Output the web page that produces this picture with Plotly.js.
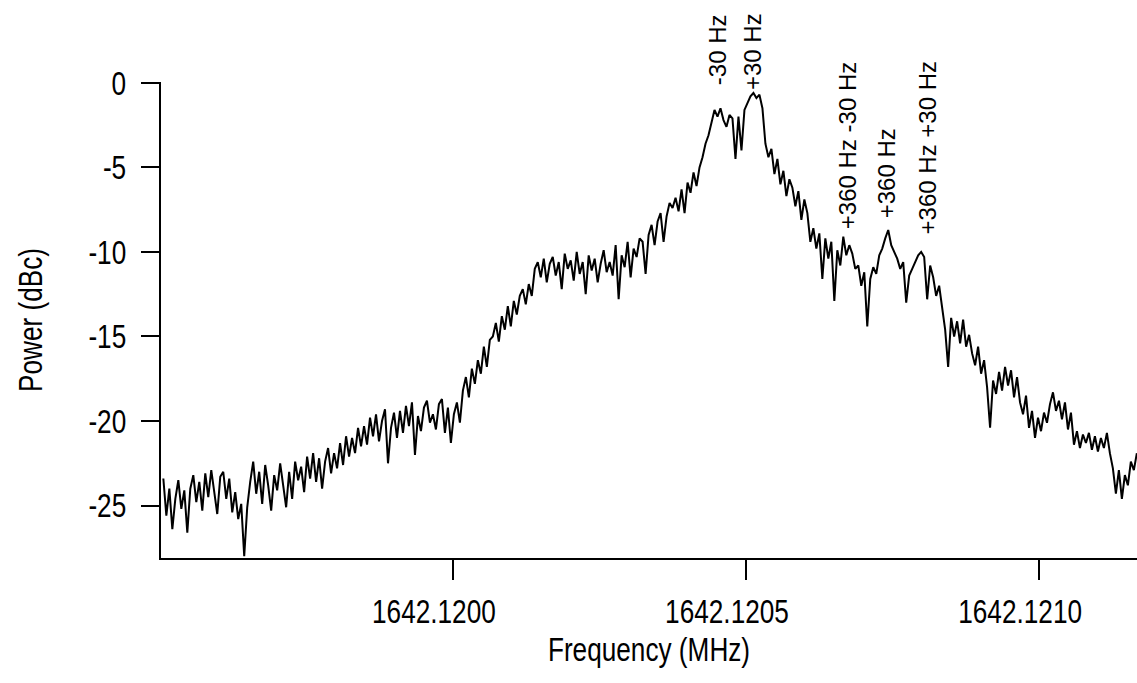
<!DOCTYPE html>
<html>
<head>
<meta charset="utf-8">
<script src="https://cdn.plot.ly/plotly-3.0.1.min.js"></script>
<style>
  html, body { margin: 0; padding: 0; background: #fff; overflow: hidden; }
  #chart { width: 1137px; height: 683px; }
</style>
</head>
<body>
<div id="chart"></div>
<script>
// Spectrum sampling grid (MHz)
const freqStartMHz = 1642.119506;
const freqStepMHz = 0.00000511;

const powerDbc = [
  -23.4,-25.6,-24.0,-26.4,-24.6,-23.5,-25.2,-24.1,-26.6,-24.0,
  -23.2,-24.8,-23.6,-25.3,-23.1,-24.5,-22.9,-24.2,-25.5,-23.3,
  -23.0,-24.6,-23.4,-25.4,-24.2,-25.8,-24.9,-28.0,-25.1,-23.6,
  -22.4,-24.3,-23.0,-24.9,-22.6,-23.8,-25.3,-23.2,-24.1,-22.5,
  -23.9,-25.1,-23.0,-24.6,-22.4,-23.5,-22.7,-24.2,-22.1,-23.4,
  -21.9,-23.6,-22.2,-24.0,-22.4,-21.6,-23.1,-21.9,-22.8,-21.3,
  -22.6,-20.9,-22.1,-21.0,-21.9,-20.4,-21.5,-20.3,-21.4,-19.8,
  -20.9,-19.6,-21.2,-20.0,-19.3,-22.5,-20.4,-19.5,-21.0,-19.4,
  -20.7,-19.1,-20.3,-18.9,-22.0,-19.7,-20.6,-19.2,-18.8,-20.1,
  -19.6,-20.5,-19.0,-18.7,-20.7,-19.2,-21.3,-19.6,-18.9,-20.1,
  -18.2,-17.4,-18.6,-16.9,-17.8,-16.4,-17.2,-15.6,-16.8,-15.2,
  -15.0,-14.2,-15.3,-13.8,-14.6,-13.2,-14.4,-12.9,-13.7,-12.6,
  -12.2,-13.1,-11.9,-12.6,-11.0,-10.6,-11.5,-10.4,-11.8,-10.7,
  -10.3,-11.4,-10.6,-12.2,-10.1,-11.0,-10.5,-11.7,-10.0,-11.3,
  -10.6,-12.5,-10.2,-11.1,-10.4,-11.8,-10.7,-9.9,-11.2,-10.6,
  -11.4,-9.6,-12.8,-10.2,-10.9,-9.4,-11.5,-9.8,-10.3,-9.2,
  -9.4,-11.3,-9.0,-8.4,-9.6,-8.2,-7.7,-9.4,-7.9,-7.1,
  -7.4,-6.8,-7.6,-6.3,-7.7,-5.9,-6.5,-5.3,-6.1,-5.0,
  -4.4,-3.6,-3.1,-2.4,-1.6,-2.0,-1.5,-2.2,-2.6,-1.9,
  -2.1,-4.5,-2.0,-4.0,-1.6,-1.2,-0.8,-0.6,-0.9,-0.7,
  -1.5,-3.6,-4.4,-3.9,-5.4,-4.5,-6.0,-5.2,-6.7,-5.7,
  -6.2,-7.3,-6.4,-8.1,-6.9,-7.7,-9.4,-8.6,-9.8,-8.9,
  -11.6,-9.2,-10.4,-9.4,-12.9,-9.9,-10.8,-9.1,-10.2,-9.6,
  -10.1,-11.0,-10.8,-12.0,-11.2,-14.4,-11.6,-10.9,-11.3,-10.2,
  -9.8,-9.2,-8.7,-9.6,-10.0,-10.4,-11.0,-10.6,-13.0,-11.4,
  -11.0,-10.6,-10.2,-10.0,-10.3,-12.8,-10.8,-11.5,-12.6,-12.0,
  -13.4,-14.6,-16.8,-13.9,-15.0,-14.1,-15.4,-14.0,-15.6,-14.9,
  -16.0,-16.7,-15.6,-17.2,-16.4,-18.0,-20.4,-17.6,-18.4,-17.1,
  -18.2,-16.8,-17.9,-17.0,-18.6,-17.4,-18.9,-19.6,-18.5,-20.4,
  -19.4,-21.0,-19.8,-20.6,-19.5,-20.1,-19.0,-18.3,-19.4,-18.8,
  -19.9,-18.9,-20.5,-19.5,-21.4,-20.6,-21.6,-20.8,-21.3,-20.7,
  -21.7,-20.9,-21.8,-21.0,-21.6,-20.7,-21.9,-22.8,-24.3,-22.9,
  -24.6,-23.2,-23.8,-22.4,-22.9,-21.9
];

// Axis ticks
const xTickVals = [1642.1200, 1642.1205, 1642.1210];
const xTickText = ['1642.1200', '1642.1205', '1642.1210'];
const yTickVals = [0, -5, -10, -15, -20, -25];
const yTickText = ['0', '-5', '-10', '-15', '-20', '-25'];

// Sideband labels (frequency in MHz, vertical position as fraction of plot height)
const markerLabels = ['-30 Hz', '+30 Hz', '+360 Hz -30 Hz', '+360 Hz', '+360 Hz +30 Hz'];
const markerFreqs = [1642.1204514, 1642.1205111, 1642.1206729, 1642.1207411, 1642.1208092];
const markerPaperY = [1.068, 1.064, 0.866, 0.809, 0.861];

const freqMHz = powerDbc.map((_, i) => freqStartMHz + i * freqStepMHz);

const FONT = '"Liberation Sans Narrow", "Arial Narrow", "Liberation Sans", Arial, sans-serif';

const trace = {
  x: freqMHz,
  y: powerDbc,
  type: 'scatter',
  mode: 'lines',
  line: { color: '#000', width: 2 },
  hoverinfo: 'x+y'
};

const annotations = markerLabels.map((t, i) => ({
  text: t,
  x: markerFreqs[i],
  y: markerPaperY[i],
  xref: 'x',
  yref: 'paper',
  showarrow: false,
  textangle: -90,
  xanchor: 'center',
  yanchor: 'middle',
  font: { family: FONT, size: 24, color: '#000' }
}));

const layout = {
  width: 1137,
  height: 683,
  margin: { l: 161, r: 0, t: 82, b: 125 },
  paper_bgcolor: '#fff',
  plot_bgcolor: '#fff',
  showlegend: false,
  font: { family: FONT, size: 34, color: '#000' },
  xaxis: {
    range: [1642.119502, 1642.121167],
    showgrid: false,
    zeroline: false,
    showline: true,
    linecolor: '#000',
    linewidth: 2,
    ticks: 'outside',
    ticklen: 20,
    tickwidth: 2,
    tickcolor: '#000',
    tickvals: xTickVals,
    ticktext: xTickText,
    ticklabelstandoff: 2,
    ticklabelshift: -19,
    ticklabeloverflow: 'allow',
    tickfont: { family: FONT, size: 34, color: '#000' },
    title: { text: 'Frequency (MHz)', font: { family: FONT, size: 34, color: '#000' }, standoff: 6 }
  },
  yaxis: {
    range: [-28.1, 0.05],
    showgrid: false,
    zeroline: false,
    showline: true,
    linecolor: '#000',
    linewidth: 2,
    ticks: 'outside',
    ticklen: 18,
    tickwidth: 2,
    tickcolor: '#000',
    tickvals: yTickVals,
    ticktext: yTickText,
    ticklabelstandoff: 8,
    tickfont: { family: FONT, size: 34, color: '#000' },
    title: { text: 'Power (dBc)', font: { family: FONT, size: 34, color: '#000' }, standoff: 24 }
  },
  annotations: annotations
};

// The reference typeface is strongly condensed; squeeze glyph widths of the axis texts.
function condenseText() {
  document.querySelectorAll('#chart svg .xtick text, #chart svg .ytick text, #chart svg .g-xtitle text, #chart svg .g-ytitle text').forEach(el => {
    if (!el.textContent) return;
    const len = el.getComputedTextLength();
    if (len > 0) {
      el.setAttribute('textLength', (len * 0.77).toFixed(1));
      el.setAttribute('lengthAdjust', 'spacingAndGlyphs');
    }
  });
}

Plotly.newPlot('chart', [trace], layout, { displayModeBar: false, staticPlot: true }).then(condenseText);
</script>
</body>
</html>
